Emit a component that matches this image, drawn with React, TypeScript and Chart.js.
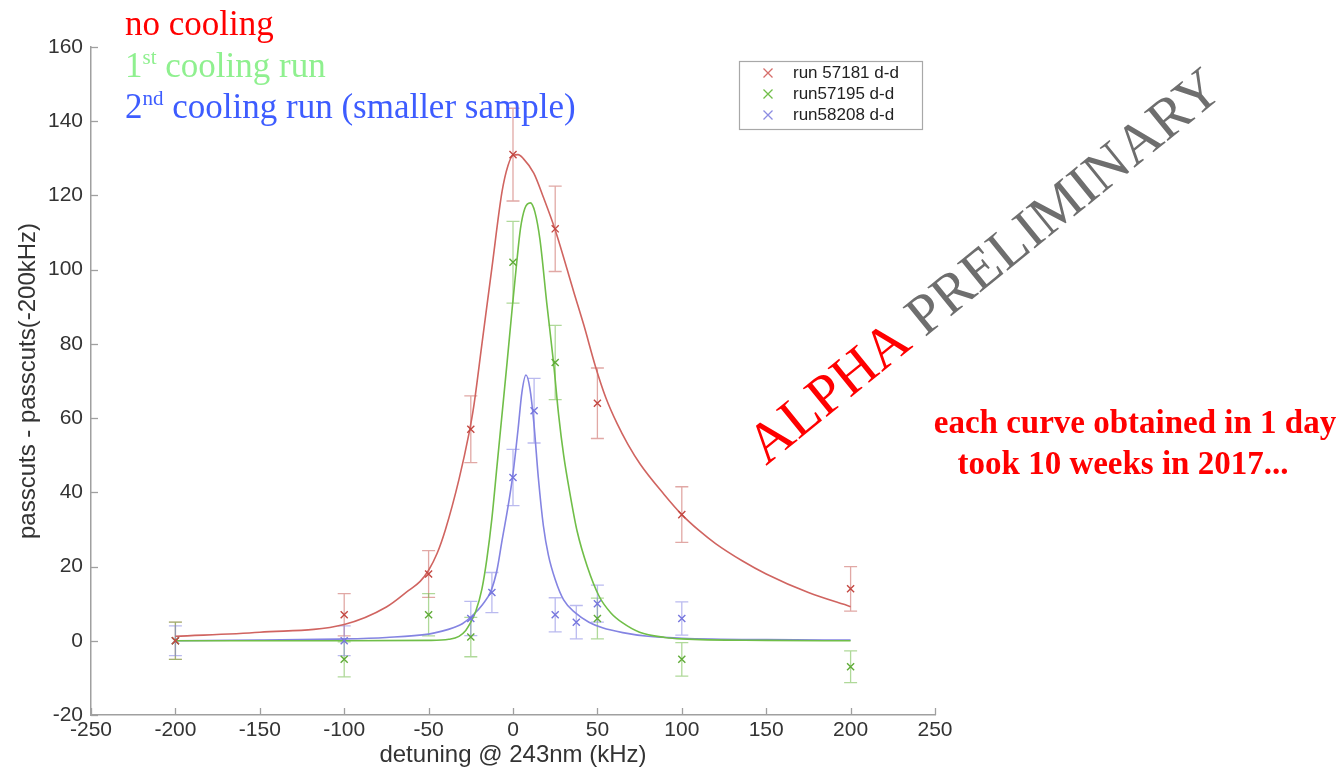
import React, { useEffect, useRef } from 'react';
import { Chart, registerables } from 'chart.js';
Chart.register(...registerables);

// ---------- axis ticks ----------
const xTickValues = [-250, -200, -150, -100, -50, 0, 50, 100, 150, 200, 250];
const yTickValues = [-20, 0, 20, 40, 60, 80, 100, 120, 140, 160];
const xTitle = 'detuning @ 243nm (kHz)';
const yTitle = 'passcuts - passcuts(-200kHz)';

// ---------- series labels ----------
const seriesLabels = ['run 57181 d-d', 'run57195 d-d', 'run58208 d-d'];

// ---------- measured points (x, y, error) ----------
const redX = [-200, -100, -50, -25, 0, 25, 50, 100, 200];
const redY = [0, 7, 18, 57, 131, 111, 64, 34, 14];
const redErr = [5, 5.7, 6.3, 9, 12.5, 11.5, 9.5, 7.5, 6];

const greenX = [-200, -100, -50, -25, 0, 25, 50, 100, 200];
const greenY = [0, -5, 7, 1, 102, 75, 6, -5, -7];
const greenErr = [5, 4.7, 5.7, 5.3, 11, 10, 5.5, 4.5, 4.3];

const blueX = [-200, -100, -25, -12.5, 0, 12.5, 25, 37.5, 50, 100];
const blueY = [0, 0, 6, 13, 44, 62, 7, 5, 10, 6];
const blueErr = [4, 4, 4.6, 5.4, 7.6, 8.7, 4.6, 4.5, 5, 4.5];

// ---------- fitted curves ----------
const redFitX = [-200, -150, -100, -75, -62, -55, -50, -45, -40, -32, -26, -23.3, -18.4, -12.5, -6.5, -3, 0, 3, 6, 12.3, 18, 25, 36, 42, 48.8, 55, 61.7, 68, 75.5, 89.4, 100, 110, 120, 136, 150, 175, 200];
const redFitY = [1.2, 2.3, 4.4, 9.1, 13.5, 16, 19, 23.5, 30, 43.5, 56, 63, 80, 100.5, 121, 128, 130.8, 131, 130, 126, 119.5, 110.7, 94, 85, 74, 65.5, 58.5, 53, 47.5, 39.5, 34, 29.8, 26.2, 21.5, 18, 13, 9.2];

const greenFitX = [-200, -100, -50, -38, -32, -28, -25, -22, -18.4, -15.5, -12.5, -9.5, -6.5, -3.5, -0.6, 2, 4.4, 7, 10.3, 13, 16, 20, 24, 27, 30, 34, 38, 44, 51, 58, 65, 75, 90, 100, 150, 200];
const greenFitY = [0, 0, 0.1, 0.4, 1.2, 2.8, 5, 8, 14, 22, 33, 47, 61, 75, 89, 101, 111, 116.5, 118, 115.5, 108, 91, 75, 61, 50, 39, 29.5, 20, 12, 7.5, 4.8, 2.3, 0.9, 0.5, 0.1, 0];

const blueFitX = [-200, -150, -100, -75, -50, -42, -35, -30, -24, -18, -13, -9.5, -6.5, -3, 0, 3, 5.3, 7.7, 10, 12.3, 15, 18, 21, 25, 30, 37, 45, 53, 65, 80, 100, 150, 200];
const blueFitY = [0, 0.2, 0.5, 0.9, 1.8, 2.6, 3.6, 4.6, 6.8, 9.8, 13.5, 19, 27, 36, 45, 57, 67, 71.6, 68, 59, 44, 31, 23, 16.5, 11, 7.5, 5, 3.5, 2.2, 1.2, 0.7, 0.3, 0.2];

// ---------- annotation texts ----------
const headerLines = ['no cooling', '1|st| cooling run', '2|nd| cooling run (smaller sample)'];
const headerColors = ['#ff0000', '#8ff08f', '#3d5cff'];
const stampWords = ['ALPHA', 'PRELIMINARY'];
const noteLines = ['each curve obtained in 1 day', 'took 10 weeks in 2017...'];

const pts = (xs: number[], ys: number[]) => xs.map((x, i) => ({ x, y: ys[i] }));

const RED_LINE = 'rgb(208, 100, 96)';
const GREEN_LINE = 'rgb(112, 190, 72)';
const BLUE_LINE = 'rgb(132, 132, 226)';
const RED_PT = 'rgb(196, 72, 66)';
const GREEN_PT = 'rgb(96, 172, 56)';
const BLUE_PT = 'rgb(118, 118, 222)';

const SANS = '"Liberation Sans", Arial, Helvetica, sans-serif';
const SERIF = '"Liberation Serif", "Times New Roman", Times, serif';

const errorBarPlugin = {
  id: 'errorBars',
  beforeDatasetsDraw(chart: any) {
    const { ctx } = chart;
    const xs = chart.scales.x;
    const ys = chart.scales.y;
    chart.data.datasets.forEach((ds: any) => {
      if (!ds.errors) return;
      ctx.save();
      ctx.strokeStyle = ds.errorColor;
      ctx.lineWidth = 1.3;
      ds.data.forEach((p: any, i: number) => {
        const e = ds.errors[i];
        const px = xs.getPixelForValue(p.x);
        const top = ys.getPixelForValue(p.y + e);
        const bot = ys.getPixelForValue(p.y - e);
        ctx.beginPath();
        ctx.moveTo(px, top);
        ctx.lineTo(px, bot);
        ctx.moveTo(px - 6.5, top);
        ctx.lineTo(px + 6.5, top);
        ctx.moveTo(px - 6.5, bot);
        ctx.lineTo(px + 6.5, bot);
        ctx.stroke();
      });
      ctx.restore();
    });
  },
};

function drawCross(ctx: CanvasRenderingContext2D, x: number, y: number, r: number, color: string) {
  ctx.save();
  ctx.strokeStyle = color;
  ctx.lineWidth = 1.3;
  ctx.beginPath();
  ctx.moveTo(x - r, y - r);
  ctx.lineTo(x + r, y + r);
  ctx.moveTo(x - r, y + r);
  ctx.lineTo(x + r, y - r);
  ctx.stroke();
  ctx.restore();
}

const decorPlugin = {
  id: 'decor',
  afterDraw(chart: any) {
    const { ctx, chartArea } = chart;
    const xs = chart.scales.x;
    const ys = chart.scales.y;

    // inward tick marks
    ctx.save();
    ctx.strokeStyle = '#a0a0a0';
    ctx.lineWidth = 1.3;
    xTickValues.forEach((v) => {
      const px = Math.round(xs.getPixelForValue(v)) + 0.5;
      ctx.beginPath();
      ctx.moveTo(px, chartArea.bottom);
      ctx.lineTo(px, chartArea.bottom - 7);
      ctx.stroke();
    });
    yTickValues.forEach((v) => {
      const py = Math.round(ys.getPixelForValue(v)) + 0.5;
      ctx.beginPath();
      ctx.moveTo(chartArea.left, py);
      ctx.lineTo(chartArea.left + 7, py);
      ctx.stroke();
    });
    ctx.restore();

    // legend box
    ctx.save();
    ctx.fillStyle = '#ffffff';
    ctx.strokeStyle = '#a8a8a8';
    ctx.lineWidth = 1.2;
    ctx.fillRect(739, 61, 183, 68);
    ctx.strokeRect(739.5, 61.5, 183, 68);
    const legendColors = ['rgb(214, 110, 106)', 'rgb(112, 190, 72)', 'rgb(140, 140, 226)'];
    const rows = [73, 94, 115];
    ctx.font = `17px ${SANS}`;
    ctx.fillStyle = '#222';
    ctx.textBaseline = 'middle';
    ctx.textAlign = 'left';
    seriesLabels.forEach((lab, i) => {
      drawCross(ctx, 768, rows[i], 4.5, legendColors[i]);
      ctx.fillText(lab, 793, rows[i]);
    });
    ctx.restore();

    // header lines with superscripts
    ctx.save();
    ctx.textBaseline = 'alphabetic';
    ctx.textAlign = 'left';
    const baselines = [35, 77, 118];
    headerLines.forEach((line, i) => {
      ctx.fillStyle = headerColors[i];
      const parts = line.split('|');
      let x = 125;
      parts.forEach((part, j) => {
        const sup = j % 2 === 1;
        ctx.font = sup ? `21px ${SERIF}` : `35px ${SERIF}`;
        ctx.fillText(part, x, baselines[i] - (sup ? 13 : 0));
        x += ctx.measureText(part).width;
      });
    });
    ctx.restore();

    // rotated stamp
    ctx.save();
    ctx.translate(766, 466);
    ctx.rotate((-39 * Math.PI) / 180);
    ctx.font = `57px ${SERIF}`;
    ctx.textBaseline = 'alphabetic';
    ctx.textAlign = 'left';
    ctx.fillStyle = '#ff0000';
    ctx.fillText(stampWords[0], 0, 0);
    const w0 = ctx.measureText(stampWords[0] + ' ').width;
    ctx.fillStyle = '#6e6e6e';
    ctx.fillText(stampWords[1], w0, 0);
    ctx.restore();

    // note
    ctx.save();
    ctx.font = `bold 33px ${SERIF}`;
    ctx.fillStyle = '#ff0000';
    ctx.textAlign = 'center';
    ctx.textBaseline = 'alphabetic';
    ctx.fillText(noteLines[0], 1135, 433);
    ctx.fillText(noteLines[1], 1123, 474);
    ctx.restore();
  },
};

export default function App() {
  const canvasRef = useRef<HTMLCanvasElement | null>(null);

  useEffect(() => {
    const canvas = canvasRef.current;
    if (!canvas) return;
    const fit = (label: string, data: any[], color: string) => ({
      label,
      data,
      showLine: true,
      borderColor: color,
      borderWidth: 1.6,
      pointRadius: 0,
      cubicInterpolationMode: 'monotone',
      order: 2,
    });
    const meas = (label: string, data: any[], errs: number[], errColor: string, color: string) => ({
      label,
      data,
      errors: errs,
      errorColor: errColor,
      pointStyle: 'crossRot',
      pointRadius: 5,
      borderWidth: 1.4,
      borderColor: color,
      backgroundColor: color,
      order: 1,
    });
    const chart = new Chart(canvas, {
      type: 'scatter',
      data: {
        datasets: [
          fit('fit 57181', pts(redFitX, redFitY), RED_LINE),
          fit('fit 57195', pts(greenFitX, greenFitY), GREEN_LINE),
          fit('fit 58208', pts(blueFitX, blueFitY), BLUE_LINE),
          meas(seriesLabels[0], pts(redX, redY), redErr, 'rgba(205, 110, 105, 0.6)', RED_PT),
          meas(seriesLabels[1], pts(greenX, greenY), greenErr, 'rgba(110, 185, 70, 0.55)', GREEN_PT),
          meas(seriesLabels[2], pts(blueX, blueY), blueErr, 'rgba(130, 130, 225, 0.55)', BLUE_PT),
        ] as any,
      },
      options: {
        responsive: false,
        maintainAspectRatio: false,
        devicePixelRatio: 1,
        animation: false,
        layout: { padding: { left: 0, top: 47, right: 403, bottom: 0 } },
        plugins: {
          legend: { display: false },
          tooltip: { enabled: false },
        },
        scales: {
          x: {
            type: 'linear',
            min: -250,
            max: 250,
            afterFit: (s: any) => {
              s.height = 56;
            },
            afterBuildTicks: (s: any) => {
              s.ticks = xTickValues.map((v) => ({ value: v }));
            },
            ticks: {
              font: { size: 21, family: SANS },
              color: '#333',
              padding: 3,
              maxRotation: 0,
              autoSkip: false,
              callback: (v: any) => String(v),
            },
            grid: { drawOnChartArea: false, drawTicks: false },
            border: { display: true, color: '#a0a0a0', width: 1.5 },
            title: {
              display: true,
              text: xTitle,
              font: { size: 24, family: SANS },
              color: '#333',
              padding: { top: 0, bottom: 1 },
            },
          },
          y: {
            type: 'linear',
            min: -20,
            max: 160,
            afterFit: (s: any) => {
              s.width = 91;
            },
            afterBuildTicks: (s: any) => {
              s.ticks = yTickValues.map((v) => ({ value: v }));
            },
            ticks: {
              font: { size: 21, family: SANS },
              color: '#333',
              padding: 8,
              autoSkip: false,
              callback: (v: any) => String(v),
            },
            grid: { drawOnChartArea: false, drawTicks: false },
            border: { display: true, color: '#a0a0a0', width: 1.5 },
            title: {
              display: true,
              text: yTitle,
              font: { size: 24, family: SANS },
              color: '#333',
              padding: { top: 14, bottom: 0 },
            },
          },
        },
      } as any,
      plugins: [errorBarPlugin, decorPlugin],
    });
    return () => chart.destroy();
  }, []);

  return (
    <div style={{ position: 'absolute', left: 0, top: 0, width: 1338, height: 771, background: '#fff' }}>
      <canvas ref={canvasRef} width={1338} height={771} style={{ display: 'block' }} />
    </div>
  );
}
